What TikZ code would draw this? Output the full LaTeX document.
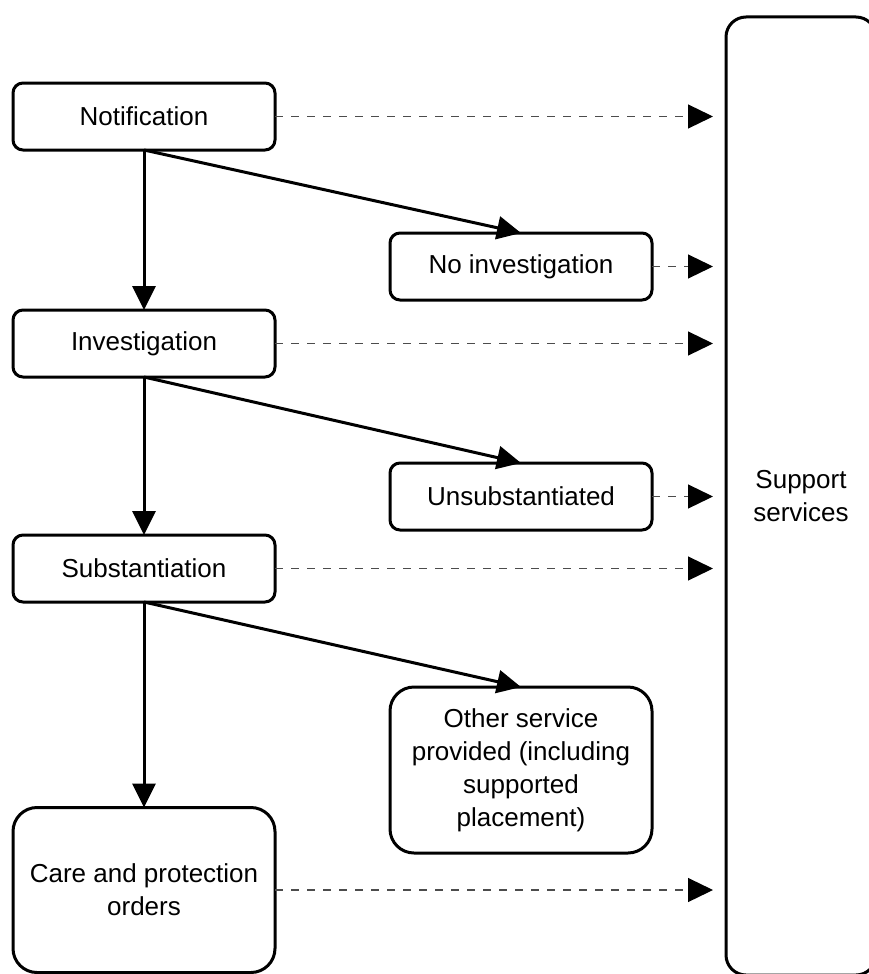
\documentclass[tikz,border=0pt]{standalone}
\usepackage{fontspec}
\setmainfont{Liberation Sans}
\usetikzlibrary{arrows.meta}

\tikzset{
  box/.style={draw=black, line width=3pt, rounded corners=10pt, inner sep=0pt,
    outer sep=0pt, minimum width=262pt, minimum height=67pt, align=center,
    font=\fontsize{26pt}{33pt}\selectfont},
  tallbox/.style={box, rounded corners=24pt, minimum height=165pt},
  flowarrow/.style={line width=3pt, -{Triangle[length=24pt,width=23pt]}},
  servicearrow/.style={draw=black!70, line width=1.2pt, dash pattern=on 8pt off 8pt,
    -{Triangle[length=25pt,width=24pt,color=black]}, shorten >=13pt}
}

\begin{document}
\begin{tikzpicture}[x=1pt, y=-1pt]
  \clip (0,0) rectangle (869,974);
  \fill[white] (0,0) rectangle (869,974);

  % main pathway on the left
  \node[box] (notif) at (144,116.5) {Notification};
  \node[box] (inv)   at (144,343.5) {Investigation};
  \node[box] (subst) at (144,568.5) {Substantiation};
  \node[tallbox] (care) at (144,890) {Care and protection\\orders};

  % exits in the middle column
  \node[box] (noinv) at (521,266.5) {No investigation};
  \node[box] (unsub) at (521,496.5) {Unsubstantiated};
  \node[tallbox, minimum height=166pt] (other) at (521,770)
    {Other service\\provided (including\\supported\\placement)};

  % support services column
  \node[box, rounded corners=20pt, minimum width=150pt, minimum height=958pt]
    (sup) at (801,496) {Support\\services};

  % solid flow arrows
  \draw[flowarrow] (notif.south) -- (inv.north);
  \draw[flowarrow] (notif.south) -- (noinv.north);
  \draw[flowarrow] (inv.south) -- (subst.north);
  \draw[flowarrow] (inv.south) -- (unsub.north);
  \draw[flowarrow] (subst.south) -- (care.north);
  \draw[flowarrow] (subst.south) -- (other.north);

  % dashed links to support services
  \foreach \n in {notif, noinv, inv, unsub, subst, care}
    \draw[servicearrow] (\n.east) -- (\n.east -| sup.west);
\end{tikzpicture}
\end{document}
